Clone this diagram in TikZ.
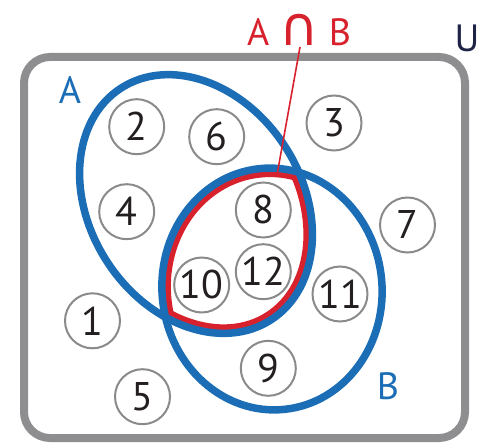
\documentclass[tikz,border=0pt]{standalone}
\usepackage{fontspec}
\setmainfont{PT Sans}
\newfontfamily\symfont{DejaVu Sans}
\definecolor{vblue}{HTML}{1B6DB5}
\definecolor{vred}{HTML}{D7222E}
\definecolor{ugray}{HTML}{8E8E91}
\definecolor{cgray}{HTML}{8A8A8A}
\definecolor{ink}{HTML}{231F20}
\definecolor{uink}{HTML}{1F2346}
\begin{document}
\begin{tikzpicture}[x=1pt,y=-1pt,
  num/.style={circle, draw=cgray, line width=2pt, minimum size=55pt, inner sep=0pt, text=ink, font=\fontsize{40}{40}\selectfont},
  lbl/.style={font=\fontsize{38}{38}\selectfont, inner sep=0pt},
  ellA/.style={shift={(196,204)}, rotate=-57},
  ellB/.style={shift={(272,289)}, rotate=6},
  setline/.style={draw=vblue, line width=7.5pt},
  capline/.style={draw=vred, line width=18pt},
]
\useasboundingbox (0,0) rectangle (487,443);
\draw[ugray, line width=8pt, rounded corners=26pt] (24,57) rectangle (465,438);
% intersection (red, inside the blue outlines)
\begin{scope}
  \clip[ellA] (0,0) ellipse [x radius=138pt, y radius=106pt];
  \clip[ellB] (0,0) ellipse [x radius=110pt, y radius=121pt];
  \path[capline, ellA] (0,0) ellipse [x radius=138pt, y radius=106pt];
  \path[capline, ellB] (0,0) ellipse [x radius=110pt, y radius=121pt];
\end{scope}
\path[setline, ellA] (0,0) ellipse [x radius=138pt, y radius=106pt];
\path[setline, ellB] (0,0) ellipse [x radius=110pt, y radius=121pt];
% labels
\node[lbl, text=vblue] (la) at (70,90) {A};
\node[lbl, text=vblue] (lb) at (388,386) {B};
\node[lbl, text=uink] (lu) at (467,38) {U};
\node[lbl, text=vred] (aib) at (299,30) {A\hspace{10pt}{\symfont\fontsize{54}{54}\selectfont ∩}\hspace{10pt}B};
\coordinate (lstart) at (300,47);
\coordinate (ltip) at (277,175);
\draw[vred, line width=1.6pt] (lstart) -- (ltip);
% elements
\node[num] (n2) at (136.7,126.7) {2};
\node[num] (n6) at (216.7,136.7) {6};
\node[num] (n3) at (334,123) {3};
\node[num] (n4) at (126.7,211.7) {4};
\node[num] (n8) at (263.3,210) {8};
\node[num] (n7) at (407.5,225) {7};
\node[num] (n10) at (201.7,285) {10};
\node[num] (n12) at (263.3,271.7) {12};
\node[num] (n11) at (340,294) {11};
\node[num] (n1) at (92.5,320.8) {1};
\node[num] (n9) at (268.3,368.3) {9};
\node[num] (n5) at (142.5,396.7) {5};
\end{tikzpicture}
\end{document}
